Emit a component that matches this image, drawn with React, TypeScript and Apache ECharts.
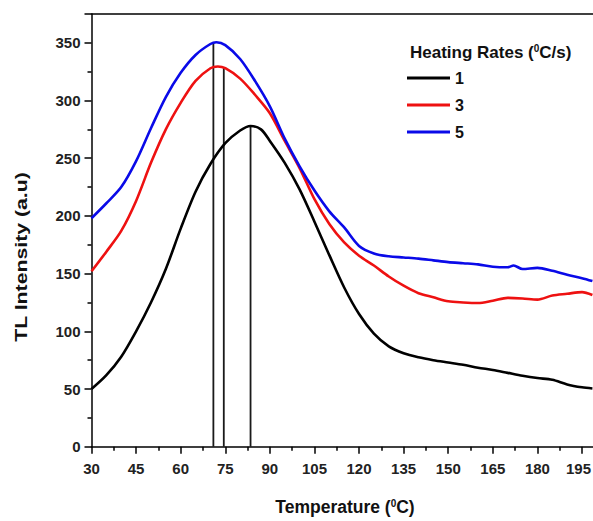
import { useEffect, useRef } from "react";
import * as echarts from "echarts";

const FONT = "'Liberation Sans', Arial, sans-serif";

const rateNames = ["1", "3", "5"];
const rateColors = ["#000000", "#ee1111", "#0a0ae8"];

const blackTemp = [30, 35, 40, 45, 50, 55, 60, 65, 70, 75, 80, 83.5, 87, 90, 95, 100, 105, 110, 115, 120, 125, 130, 135, 140, 145, 150, 155, 160, 165, 170, 175, 180, 185, 190, 195, 198.5];
const blackVal = [50, 62, 78, 100, 125, 154, 189, 221, 245, 263, 274, 278, 275, 265, 246, 223, 195, 166, 138, 115, 98, 87, 81, 77.5, 75, 73, 71, 68.5, 66.5, 64, 61.5, 59.5, 58, 54, 51.5, 50.5];

const redTemp = [30, 35, 40, 45, 50, 55, 60, 65, 70, 72.5, 75, 80, 85, 90, 95, 100, 105, 110, 115, 120, 125, 130, 135, 140, 145, 150, 155, 160, 165, 170, 175, 180, 185, 190, 195, 198.5];
const redVal = [152, 169, 187, 213, 246, 275, 298, 317, 328, 329.5, 328, 319, 305, 289, 265, 241.5, 214.5, 193, 177, 165.5, 157, 147.5, 139.5, 133, 129.5, 126, 125, 124.5, 126.5, 129, 128.5, 127.5, 131, 132.5, 134, 131.5];

const blueTemp = [30, 35, 40, 45, 50, 55, 60, 65, 70, 72, 75, 80, 85, 90, 95, 100, 105, 110, 115, 120, 125, 130, 135, 140, 145, 150, 155, 160, 165, 170, 172, 175, 180, 185, 190, 195, 198.5];
const blueVal = [198, 211, 225, 247.5, 276, 303, 324, 339.5, 349, 350.5, 348, 336, 317, 295, 267, 243, 222, 204, 190, 174, 167.5, 165, 164, 163, 161.5, 160, 159, 158, 156, 155.5, 157, 154, 155, 152.5, 149, 146, 143.5];

const peakTemp = [83.5, 74.5, 71];
const peakVal = [278, 329, 350.5];

const xTickInterval = 15;
const yTickInterval = 50;
const xLastLabel = 195;

function pairs(t: number[], v: number[]) {
  return t.map((x, i) => [x, v[i]]);
}

export default function App() {
  const ref = useRef<HTMLDivElement>(null);
  useEffect(() => {
    const chart = echarts.init(ref.current!, null, { renderer: "svg" });
    const curves = [
      pairs(blackTemp, blackVal),
      pairs(redTemp, redVal),
      pairs(blueTemp, blueVal),
    ];
    const lineSeries = rateNames.map((n, i) => ({
      name: n,
      type: "line",
      data: curves[i],
      showSymbol: false,
      symbol: "none",
      smooth: 0.3,
      lineStyle: { color: rateColors[i], width: 2.6 },
      itemStyle: { color: rateColors[i] },
      z: 3,
    }));
    const peakSeries = peakTemp.map((t, i) => ({
      name: "peak" + i,
      type: "line",
      data: [
        [t, 0],
        [t, peakVal[i]],
      ],
      symbol: "none",
      silent: true,
      lineStyle: { color: "#1a1a1a", width: 1.8 },
      z: 2,
    }));
    const axisLineStyle = { color: "#000", width: 1.5 };
    chart.setOption({
      animation: false,
      backgroundColor: "#ffffff",
      grid: { left: 91.5, top: 14, right: 0.7, bottom: 74.3 },
      xAxis: [
        {
          type: "value",
          min: 30,
          max: 202.5,
          interval: xTickInterval,
          axisLine: { show: true, lineStyle: axisLineStyle },
          axisTick: { show: true, length: 7, lineStyle: axisLineStyle },
          minorTick: { show: true, splitNumber: 2, length: 4, lineStyle: axisLineStyle },
          splitLine: { show: false },
          axisLabel: {
            showMaxLabel: false,
            fontFamily: FONT,
            fontWeight: "bold",
            fontSize: 15,
            color: "#222",
            margin: 14,
            formatter: (v: number) => (v === xLastLabel ? "{r|" + v + "}" : String(v)),
            rich: {
              r: {
                fontFamily: FONT,
                fontWeight: "bold",
                fontSize: 15,
                color: "#222",
                padding: [0, 7, 0, 0],
              },
            },
          },
        },
        {
          type: "value",
          position: "top",
          min: 30,
          max: 202.5,
          axisLine: { show: true, lineStyle: axisLineStyle },
          axisTick: { show: false },
          axisLabel: { show: false },
          splitLine: { show: false },
        },
      ],
      yAxis: {
        type: "value",
        min: 0,
        max: 375,
        interval: yTickInterval,
        axisLine: { show: true, lineStyle: axisLineStyle },
        axisTick: { show: true, length: 7, lineStyle: axisLineStyle },
        minorTick: { show: true, splitNumber: 2, length: 4, lineStyle: axisLineStyle },
        splitLine: { show: false },
        axisLabel: {
          showMaxLabel: false,
          fontFamily: FONT,
          fontWeight: "bold",
          fontSize: 15,
          color: "#222",
          margin: 11,
        },
      },
      legend: {
        data: rateNames,
        orient: "vertical",
        left: 407,
        top: 70,
        padding: 0,
        itemWidth: 43,
        itemHeight: 3,
        itemGap: 11,
        icon: "rect",
        textStyle: {
          fontFamily: FONT,
          fontWeight: "bold",
          fontSize: 16,
          lineHeight: 16,
          color: "#111",
        },
      },
      graphic: [
        {
          type: "text",
          x: 410,
          y: 52,
          style: {
            text: "{a|Heating Rates (}{s|0}{a|C/s)}",
            verticalAlign: "middle",
            align: "left",
            fill: "#111",
            rich: {
              a: { fontFamily: FONT, fontWeight: "bold", fontSize: 17, fill: "#111" },
              s: { fontFamily: FONT, fontWeight: "bold", fontSize: 10, verticalAlign: "top", fill: "#111" },
            },
          },
        },
        {
          type: "text",
          x: 345,
          y: 507,
          style: {
            text: "{a|Temperature (}{s|0}{a|C)}",
            verticalAlign: "middle",
            align: "center",
            fill: "#111",
            rich: {
              a: { fontFamily: FONT, fontWeight: "bold", fontSize: 17.5, fill: "#111" },
              s: { fontFamily: FONT, fontWeight: "bold", fontSize: 10, verticalAlign: "top", fill: "#111" },
            },
          },
        },
        {
          type: "text",
          x: 21,
          y: 257,
          rotation: Math.PI / 2,
          scaleX: 1.25,
          style: {
            text: "TL Intensity (a.u)",
            fontFamily: FONT,
            fontWeight: "bold",
            fontSize: 17,
            fill: "#111",
            align: "center",
            verticalAlign: "middle",
          },
        },
      ],
      series: [...peakSeries, ...lineSeries],
    });
    return () => chart.dispose();
  }, []);
  return (
    <div
      style={{
        position: "absolute",
        left: 0,
        top: 0,
        width: 593,
        height: 521,
        overflow: "hidden",
        background: "#fff",
      }}
    >
      <div ref={ref} style={{ width: 605, height: 521 }} />
    </div>
  );
}
